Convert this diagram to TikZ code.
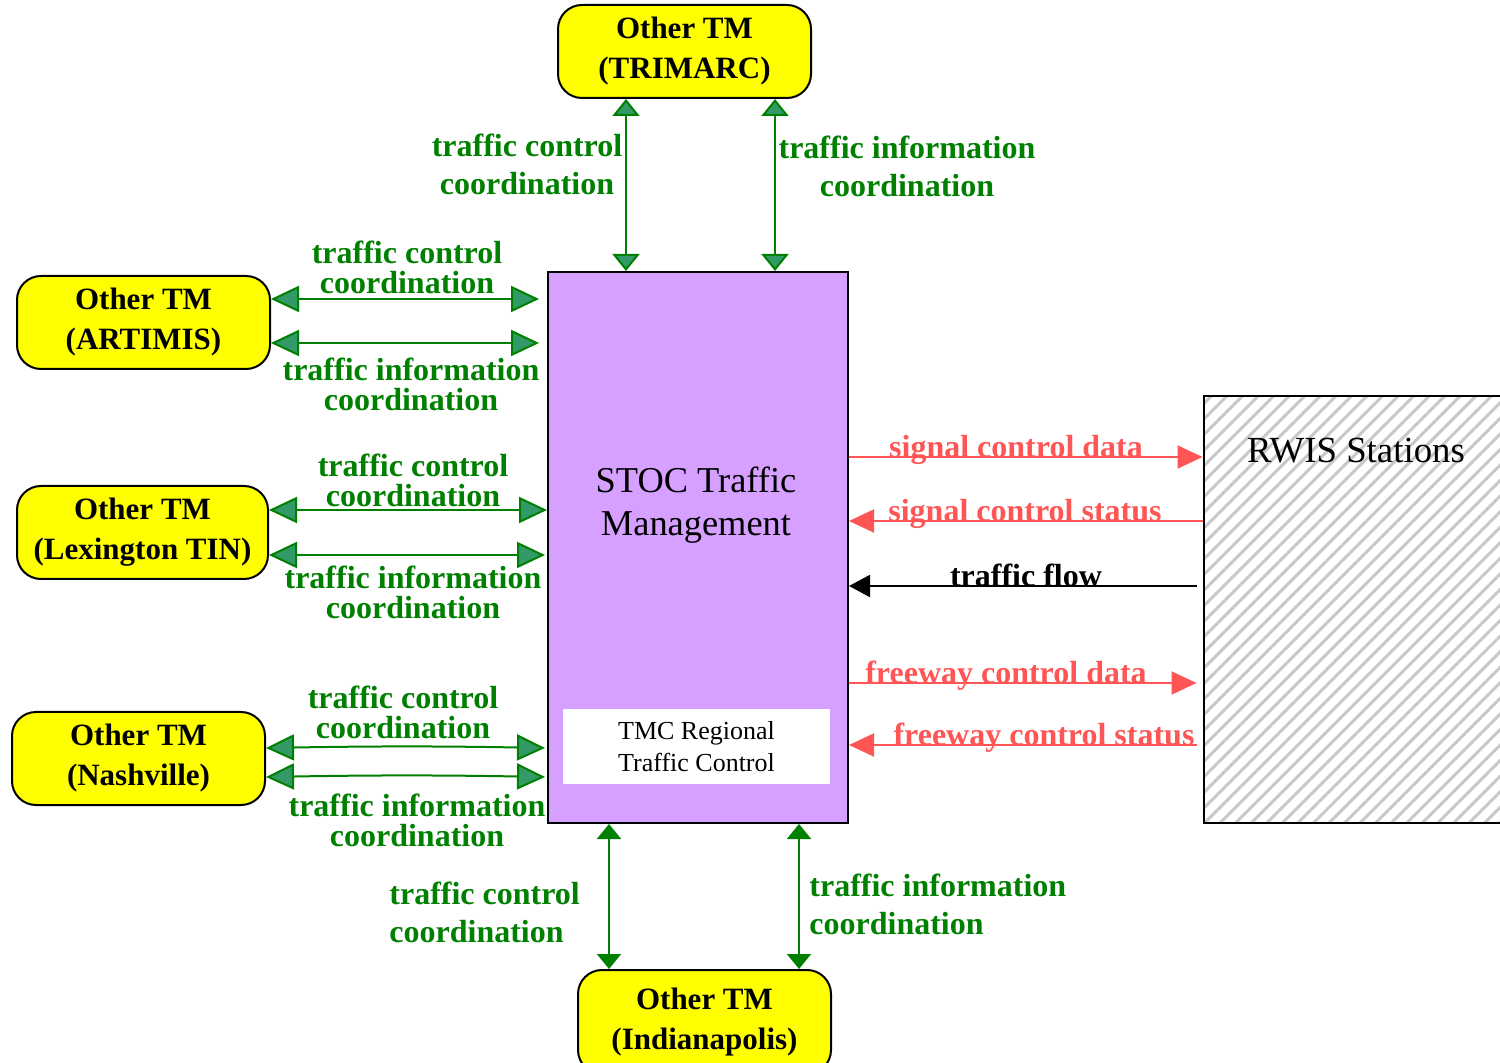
\documentclass[tikz,border=0pt]{standalone}
\usepackage{fontspec}
\setmainfont{Liberation Serif}
\usetikzlibrary{arrows.meta, patterns.meta}
\definecolor{YL}{RGB}{255,255,0}
\definecolor{PU}{RGB}{213,160,255}
\definecolor{GN}{RGB}{0,128,0}
\definecolor{GT}{RGB}{51,153,102}
\definecolor{RD}{RGB}{255,85,85}
\definecolor{HG}{RGB}{200,200,200}
\tikzset{
  gtip/.tip={Triangle[length=14pt, width=13pt, fill=GT]},
  ttip/.tip={Triangle[length=8.5pt, width=13.5pt, fill=GT]},
  btip/.tip={Triangle[length=7.5pt, width=12pt, fill=GN]},
  rtip/.tip={Triangle[length=12.5pt, width=11.5pt, fill=RD]},
  ktip/.tip={Triangle[length=10.5pt, width=11pt]}
}

\begin{document}
\begin{tikzpicture}[x=0.5pt, y=-0.5pt,
  tm/.style={draw, line width=1pt, fill=YL, rounded corners=12pt,
             minimum width=126.5pt, minimum height=46.5pt,
             align=center, font=\fontsize{15.5}{20}\selectfont\bfseries},
  box/.style={draw, line width=1pt, inner sep=0pt},
  lbl/.style={text=GN, align=center, inner sep=0pt,
              font=\fontsize{16}{#1}\selectfont\bfseries},
  lbl/.default=15,
  rlbl/.style={text=#1, anchor=base, inner sep=0pt,
               font=\fontsize{16}{19}\selectfont\bfseries},
  garr/.style={gtip-gtip, line width=1pt, draw=GN},
  tarr/.style={ttip-ttip, line width=1pt, draw=GN},
  barr/.style={btip-btip, line width=1pt, draw=GN},
  rarr/.style={-rtip, line width=1pt, draw=RD},
  karr/.style={-ktip, line width=1pt, draw=black}
]
\useasboundingbox (0,0) rectangle (1500,1063);
\clip (0,0) rectangle (1500,1063);

% Central TMC and terminator
\node[box, fill=PU, minimum width=150pt, minimum height=275.5pt] (stoc) at (698,547.5) {};
\node[font=\fontsize{18.2}{21.5}\selectfont, align=center] (stoclbl) at (696,505)
  {STOC Traffic\\Management};
\node[fill=white, inner sep=0pt, minimum width=133.5pt, minimum height=37.5pt,
      align=center, font=\fontsize{13}{16}\selectfont] (tmc) at (696.5,746.5)
  {TMC Regional\\Traffic Control};
\node[box, pattern={Lines[angle=45, distance=5.5pt, line width=1.5pt]}, pattern color=HG,
      minimum width=158pt, minimum height=213.5pt] (rwis) at (1362,609.5) {};
\node[font=\fontsize{18.4}{22}\selectfont] (rwislbl) at (1356,451) {RWIS Stations};

% Other traffic managers
\node[tm] (trimarc) at (684.5,51.5)  {Other TM\\(TRIMARC)};
\node[tm] (artimis) at (143.5,322.5) {Other TM\\(ARTIMIS)};
\node[tm, minimum width=125.5pt] (lex) at (142.5,532.5) {Other TM\\(Lexington TIN)};
\node[tm] (nash)    at (138.5,758.5) {Other TM\\(Nashville)};
\node[tm, minimum height=52pt] (indy) at (704.5,1022) {Other TM\\(Indianapolis)};

% Center-to-center flows
\draw[tarr] (trimarc.south -| 626,0) -- (stoc.north -| 626,0);
\draw[tarr] (trimarc.south -| 775,0) -- (stoc.north -| 775,0);
\node[lbl=19] (t1) at (527,164) {traffic control\\coordination};
\node[lbl=19] (t2) at (907,166) {traffic information\\coordination};

\draw[garr, shorten >=4pt] (artimis.east |- 0,299) -- (stoc.west |- 0,299);
\draw[garr, shorten >=4pt] (artimis.east |- 0,343) -- (stoc.west |- 0,343);
\node[lbl] (a1) at (407,267) {traffic control\\coordination};
\node[lbl] (a2) at (411,384) {traffic information\\coordination};

\draw[garr] (lex.east |- 0,510) -- (stoc.west |- 0,510);
\draw[garr, shorten >=1pt] (lex.east |- 0,555) -- (stoc.west |- 0,555);
\node[lbl] (l1) at (413,480) {traffic control\\coordination};
\node[lbl] (l2) at (413,592) {traffic information\\coordination};

\draw[garr, shorten >=1pt] (nash.east |- 0,748) to[bend left=1] (stoc.west |- 0,748);
\draw[garr, shorten >=1pt] (nash.east |- 0,777) to[bend left=1] (stoc.west |- 0,777);
\node[lbl] (n1) at (403,712) {traffic control\\coordination};
\node[lbl] (n2) at (417,820) {traffic information\\coordination};

\draw[barr] (stoc.south -| 609,0) -- (indy.north -| 609,0);
\draw[barr] (stoc.south -| 799,0) -- (indy.north -| 799,0);
\node[lbl=19, align=left, anchor=west] (i1) at (389,912) {traffic control\\coordination};
\node[lbl=19, align=left, anchor=west] (i2) at (809,904) {traffic information\\coordination};

% Center-to-field flows
\draw[rarr] (stoc.east |- 0,457) -- (rwis.west |- 0,457);
\draw[rarr] (rwis.west |- 0,521) -- (stoc.east |- 0,521);
\draw[karr, shorten <=3pt] (rwis.west |- 0,586) -- (stoc.east |- 0,586);
\draw[rarr, shorten >=3pt] (stoc.east |- 0,683) -- (rwis.west |- 0,683);
\draw[rarr, shorten <=3pt] (rwis.west |- 0,745) -- (stoc.east |- 0,745);
\node[rlbl=RD] (f1) at (1016,458) {signal control data};
\node[rlbl=RD] (f2) at (1025,522) {signal control status};
\node[rlbl=black] (f3) at (1026,587) {traffic flow};
\node[rlbl=RD] (f4) at (1006,684) {freeway control data};
\node[rlbl=RD] (f5) at (1044,746) {freeway control status};
\end{tikzpicture}
\end{document}
